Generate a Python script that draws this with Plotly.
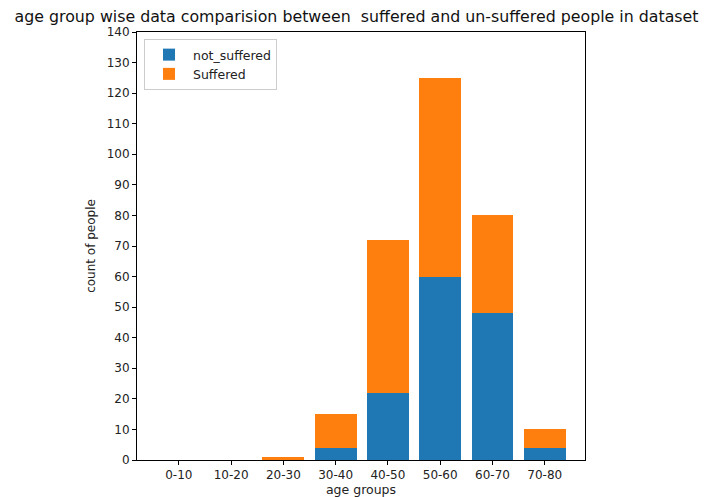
import plotly.graph_objects as go

age_groups = ["0-10", "10-20", "20-30", "30-40", "40-50", "50-60", "60-70", "70-80"]
not_suffered = [0, 0, 0, 4, 22, 60, 48, 4]
suffered = [0, 0, 1, 11, 50, 65, 32, 6]
y_ticks = list(range(0, 141, 10))

fig = go.Figure()
fig.add_trace(go.Bar(x=age_groups, y=not_suffered, name="not_suffered",
                     marker=dict(color="#1f77b4", line=dict(width=0))))
fig.add_trace(go.Bar(x=age_groups, y=suffered, name="Suffered",
                     marker=dict(color="#ff7f0e", line=dict(width=0))))

font = "DejaVu Sans"
W, H = 706, 489
L, R, T, B = 129, 577, 24, 452
fig.update_layout(
    barmode="stack",
    bargap=0.2,
    width=W, height=H,
    margin=dict(l=L, r=W - R, t=T, b=H - B, autoexpand=False),
    paper_bgcolor="white", plot_bgcolor="white",
    font=dict(family=font, size=12, color="#222"),
    title=dict(text="age group wise data comparision between  suffered and un-suffered people in dataset",
               x=348.5 / W, xanchor="center", y=1 - 3 / H, yanchor="top",
               font=dict(size=15.8, color="#111")),
    legend=dict(x=7 / 448, y=1 - 7 / 428, xanchor="left", yanchor="top",
                traceorder="normal", itemwidth=38, tracegroupgap=0,
                bgcolor="white", bordercolor="#ccc", borderwidth=1,
                font=dict(size=12.5)),
    xaxis=dict(range=[-0.8, 7.77], showline=True, linecolor="black", mirror=True,
               ticks="outside", ticklen=4, tickcolor="black", automargin=False,
               title=dict(text="age groups", standoff=1, font=dict(size=12.5)),
               showgrid=False),
    yaxis=dict(range=[0, 140], tickvals=y_ticks, showline=True, linecolor="black",
               mirror=True, ticks="outside", ticklen=4, tickcolor="black", automargin=False,
               title=dict(text="count of people", standoff=8, font=dict(size=12)),
               showgrid=False, zeroline=False),
)
fig.write_html("out.html")
